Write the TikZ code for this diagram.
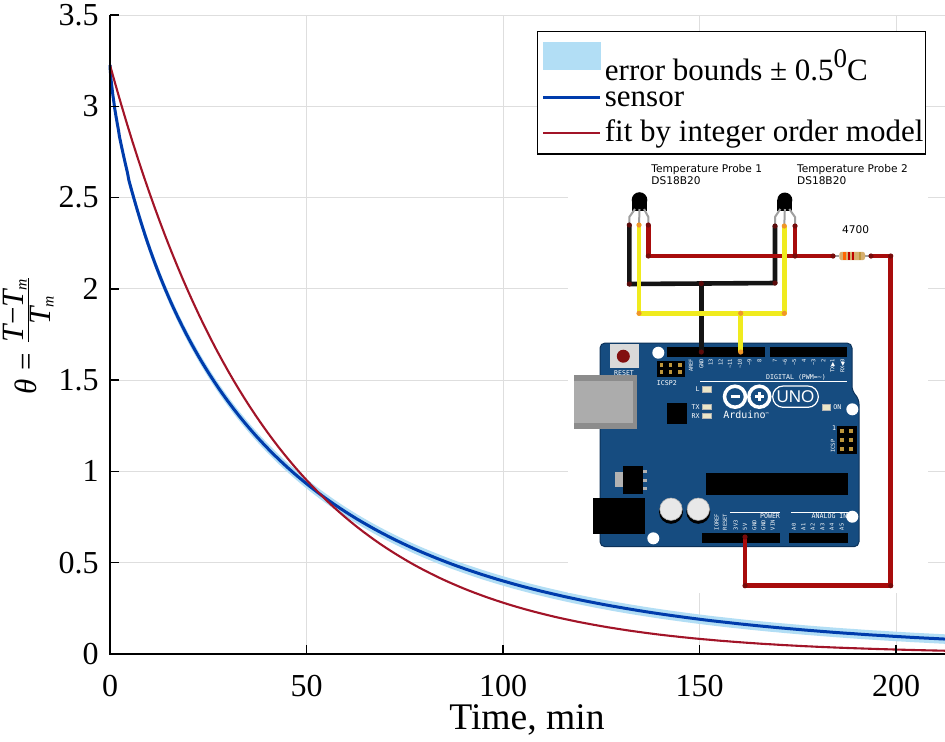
\documentclass[tikz,border=0pt]{standalone}
\usepackage{fix-cm}
\usepackage{amsmath}
\usepackage{fontspec}
\setmainfont{Liberation Serif}
\newfontfamily\circuitfont{DejaVu Sans}
\newfontfamily\boardfont{DejaVu Sans Mono}
\newfontfamily\unofont{Liberation Sans}
\definecolor{gridgray}{RGB}{222,222,222}
\definecolor{bandblue}{RGB}{178,222,245}
\definecolor{sensorblue}{RGB}{0,60,172}
\definecolor{fitred}{RGB}{162,20,40}
\definecolor{boardblue}{RGB}{22,76,128}
\definecolor{boardedge}{RGB}{12,50,90}
\definecolor{wirered}{RGB}{168,12,12}
\definecolor{wireblack}{RGB}{20,20,20}
\definecolor{wireyellow}{RGB}{240,235,30}
\definecolor{yellowdot}{RGB}{240,150,40}
\definecolor{darkdot}{RGB}{90,10,10}
\definecolor{reddot}{RGB}{120,10,10}
\definecolor{ledpale}{RGB}{235,230,200}
\definecolor{pingold}{RGB}{190,150,60}
\definecolor{usbdark}{RGB}{140,140,140}
\definecolor{usblight}{RGB}{172,172,172}
\definecolor{resetred}{RGB}{130,15,15}
\definecolor{capwhite}{RGB}{232,232,232}
\definecolor{resbody}{RGB}{215,175,110}
\newcommand\mytickfont{\fontsize{16}{19}\selectfont}
\newcommand\myaxfont{\fontsize{18.8}{22}\selectfont}
\newcommand\myylabfont{\fontsize{15.5}{18}\selectfont}
\newcommand\mylegfont{\fontsize{15.5}{18}\selectfont}
\newcommand\myprobefont{\circuitfont\fontsize{5.3}{6}\selectfont}
\newcommand\mypinfont{\boardfont\fontsize{2.7}{3}\selectfont}
\newcommand\myblabfont{\boardfont\fontsize{3.3}{4}\selectfont}
\begin{document}
\begin{tikzpicture}[x=0.5pt, y=-0.5pt,
  gridline/.style={draw=gridgray, line width=0.5pt},
  axisline/.style={draw=black, line width=0.75pt},
  sensorline/.style={draw=sensorblue, line width=1.5pt, line join=round},
  fitline/.style={draw=fitred, line width=1.05pt, line join=round},
  ticklab/.style={font=\mytickfont, inner sep=0pt},
  legtext/.style={font=\mylegfont, inner sep=0pt},
  probetext/.style={font=\myprobefont, inner sep=0pt, text=black},
  pinlab/.style={font=\mypinfont, inner sep=0pt, text=white, rotate=90},
  blab/.style={font=\myblabfont, inner sep=0pt, text=white},
  wire/.style={line width=2.3pt, line join=round},
  leg/.style={draw=gray!75, line width=1pt},
  hdr/.style={fill=black},
  led/.style={fill=ledpale, draw=gray!60, line width=0.3pt}]
\useasboundingbox (0,0) rectangle (945,741);
\fill[white] (0,0) rectangle (945,741);

% ---------------- data area ----------------
\begin{scope}[shift={(110,654)}, x=1.965pt, y=91.285pt]
  \foreach \t in {50,100,150,200} \draw[gridline] (\t,0) -- (\t,3.5);
  \foreach \v in {0.5,1,1.5,2,2.5,3,3.5} \draw[gridline] (0,\v) -- (212.5,\v);
  \fill[bandblue] (0,3.252)
     -- plot[domain=0.1:14.576, samples=160] ({\x*\x}, {3.226*exp(-pow(\x*\x/37.5,0.75))+0.026})
     -- plot[domain=14.576:0.1, samples=160] ({\x*\x}, {3.226*exp(-pow(\x*\x/37.5,0.75))-0.026})
     -- (0,3.2) -- cycle;
  \draw[sensorline] (0,3.226)
     -- plot[domain=0.1:14.576, samples=160] ({\x*\x}, {3.226*exp(-pow(\x*\x/37.5,0.75))});
  \draw[fitline] plot[domain=0:212.47, samples=150] (\x, {3.226*exp(-\x/41)});
  \draw[axisline] (0,3.5) -- (0,0) -- (212.47,0);
  \foreach \v in {0,0.5,1,1.5,2,2.5,3,3.5} \draw[axisline] (0,\v) -- (2.2,\v);
  \foreach \t in {0,50,100,150,200} \draw[axisline] (\t,0) -- (\t,0.049);
\end{scope}

% tick labels
\foreach \Y/\lab [count=\i] in {654/0, 562.7/0.5, 471.4/1, 380.1/1.5, 288.9/2, 197.6/2.5, 106.3/3, 15/3.5}
  \node[ticklab, anchor=east] (ytick\i) at (99,\Y) {\lab};
\foreach \X/\lab [count=\i] in {110/0, 306.5/50, 503/100, 699.5/150, 896/200}
  \node[ticklab, anchor=base] (xtick\i) at (\X,696) {\lab};
\node[font=\myaxfont, inner sep=0pt, anchor=base] (xlabel) at (527,729.5) {Time, min};
\node[font=\myylabfont, inner sep=0pt, anchor=base, rotate=90] (ylabel) at (36,335)
  {$\mbox{\itshape θ} \mathrel{\mbox{=}} \frac{\mbox{\itshape T}\mathbin{\mbox{−}}\mbox{\itshape T}_{\text{\itshape m}}}{\mbox{\itshape T}_{\text{\itshape m}}}$};

% ---------------- legend ----------------
\draw[fill=white, draw=black, line width=0.55pt] (537.3,31.7) rectangle (925.7,154);
\fill[bandblue] (543,42) rectangle (601,70);
\draw[sensorline] (543.3,97.3) -- (600,97.3);
\draw[fitline] (543.3,133.3) -- (600,133.3);
\node[legtext, anchor=base west] (leg1) at (604.5,80.8)
  {error bounds ± 0.5{\raisebox{0.42em}{\fontsize{13.5}{14}\selectfont 0}}C};
\node[legtext, anchor=base west] (leg2) at (604.5,106.5) {sensor};
\node[legtext, anchor=base west] (leg3) at (604.5,141.7) {fit by integer order model};

% ---------------- circuit inset ----------------
\fill[white] (568,155) rectangle (928,593);

% board
\fill[boardblue, draw=boardedge, line width=0.5pt, rounded corners=2.5pt]
  (600,343) -- (852,343) -- (852,391) -- (859,399) -- (859,546.7) -- (600,546.7) -- cycle;
\foreach \hx/\hy in {658.3/352.7, 852.3/409.3, 852.3/516.7, 653.3/538.3}
  \fill[white] (\hx,\hy) circle (6);
% USB
\fill[usbdark] (574,375) rectangle (637,429);
\fill[usblight] (574,381) rectangle (633,423);
% reset button
\fill[gray!30] (610,344) rectangle (639.3,368.3);
\fill[resetred] (623.3,356.2) circle (6.5);
\node[blab, anchor=center] (resetlab) at (624,372.8) {RESET};
% top headers
\fill[hdr] (666.7,346.7) rectangle (765,356.7);
\fill[hdr] (770,346.7) rectangle (846.7,356.7);
\foreach \px/\pl [count=\i] in {691/AREF, 701.3/GND, 710.7/13, 720.7/12, 730/\textasciitilde 11, 740/\textasciitilde 10, 749.3/\textasciitilde 9, 759.3/8,
   775/7, 785/\textasciitilde 6, 794.3/\textasciitilde 5, 804/4, 813.3/\textasciitilde 3, 823.3/2}
  \node[pinlab, anchor=east] (dpin\i) at (\px,358.5) {\pl};
\node[pinlab, anchor=east] (dpintx) at (832.7,358.5) {TX{\circuitfont ▶}1};
\node[pinlab, anchor=east] (dpinrx) at (842.7,358.5) {RX{\circuitfont ◀}0};
\node[blab, anchor=base] (digital) at (796,379) {DIGITAL (PWM=\textasciitilde)};
\draw[white, line width=0.5pt] (700,381.7) -- (846.7,381.7);
% ICSP2
\fill[hdr] (656.7,360.7) rectangle (685,376.7);
\foreach \qx in {661.5,670.8,680} \foreach \qy in {365,372}
  \fill[pingold] (\qx-1.6,\qy-1.6) rectangle (\qx+1.6,\qy+1.6);
\node[blab, anchor=base west] (icsp2) at (656.5,385.5) {ICSP2};
% small chip
\fill[black] (666.7,402.7) rectangle (686.7,424);
% LEDs
\draw[led] (702.7,386.7) rectangle (711.7,392);
\draw[led] (702.7,404) rectangle (711.7,409.3);
\draw[led] (702.7,413.3) rectangle (711.7,418.3);
\draw[led] (822.3,404.3) rectangle (830.7,410);
\node[blab, anchor=east] (ledL) at (700,389.4) {L};
\node[blab, anchor=east] (ledTX) at (700,406.7) {TX};
\node[blab, anchor=east] (ledRX) at (700,415.8) {RX};
\node[blab, anchor=west] (ledON) at (833,407.2) {ON};
% logo
\draw[white, line width=1.75pt] (735,396.7) circle (10.5);
\draw[white, line width=1.75pt] (759.3,396.7) circle (10.5);
\draw[white, line width=1.3pt] (730.5,396.7) -- (739.5,396.7);
\draw[white, line width=1.3pt] (754.8,396.7) -- (763.8,396.7);
\draw[white, line width=1.3pt] (759.3,392.2) -- (759.3,401.2);
\draw[white, line width=0.6pt, rounded corners=5.2pt] (772.7,386) rectangle (818.3,407.3);
\node[font=\unofont\fontsize{8.5}{9}\selectfont, text=white, inner sep=0pt] (uno) at (795.5,396.9) {UNO};
\node[font=\boardfont\fontsize{5}{6}\selectfont, text=white, inner sep=0pt, anchor=base west] (arduino) at (723,418)
  {Arduino{\fontsize{2.6}{3}\selectfont\raisebox{0.6ex}{™}}};
% right ICSP
\fill[hdr] (836.7,426) rectangle (856.7,454);
\foreach \qx in {842,851} \foreach \qy in {431,440,449}
  \fill[pingold] (\qx-1.6,\qy-1.6) rectangle (\qx+1.6,\qy+1.6);
\node[pinlab] (icsp) at (833,446) {ICSP};
\node[blab] (icsp1) at (834,428.5) {1};
% regulator
\fill[gray!60] (615,471.7) rectangle (623.3,487.3);
\fill[black] (623.3,466) rectangle (643.3,494);
\foreach \ry in {471.5,480,488.5} \fill[gray!60] (643.3,\ry-1.5) rectangle (647,\ry+1.5);
% main chip
\fill[black] (706,473.3) rectangle (848.3,495);
% power jack
\fill[black] (593.3,498.3) rectangle (645,534);
% capacitors
\foreach \cx in {671,698.3} {
  \fill[black] (\cx,511.8) circle (12);
  \fill[capwhite, draw=gray!60, line width=0.3pt] (\cx,509.2) circle (11.2);
}
% bottom headers
\fill[hdr] (701.7,532.7) rectangle (780,542.7);
\fill[hdr] (789.3,532.7) rectangle (848.3,542.7);
\node[blab, anchor=base] (powerlab) at (770,518.5) {POWER};
\draw[white, line width=0.5pt] (730,512.7) -- (780,512.7);
\node[blab, anchor=base] (analoglab) at (829.5,518.5) {ANALOG IN};
\draw[white, line width=0.5pt] (791,512.7) -- (848.3,512.7);
\foreach \px/\pl [count=\i] in {716.7/IOREF, 725/RESET, 735.7/3V3, 745/5V, 754.3/GND, 763.3/GND, 772.7/VIN,
   794/A0, 803.3/A1, 812.7/A2, 822.3/A3, 831.7/A4, 841.7/A5}
  \node[pinlab, anchor=west] (ppin\i) at (\px,530.5) {\pl};

% probes
\fill[black] (639.5,200) circle (7.8);
\fill[black] (631.7,200) rectangle (647.3,210.5);
\fill[black] (784.8,200) circle (7.5);
\fill[black] (777.3,200) rectangle (792.3,210.5);

\coordinate (p1k) at (629.3,225);
\coordinate (p1y) at (639,225);
\coordinate (p1r) at (648.3,225);
\coordinate (p2k) at (775,226);
\coordinate (p2y) at (784.3,226);
\coordinate (p2r) at (795,226);
\coordinate (kA) at (629.3,284);
\coordinate (kB) at (775,283);
\coordinate (kJ) at (701.3,283.5);
\coordinate (kG) at (701.3,352);
\coordinate (yA) at (639,313.3);
\coordinate (yB) at (784.3,313.3);
\coordinate (yJ) at (740.7,313.3);
\coordinate (yP) at (740.7,352);
\coordinate (rA) at (648.3,256);
\coordinate (rB) at (795,256);
\coordinate (rR1) at (833,256);
\coordinate (rR2) at (871,256);
\coordinate (rC) at (890.7,256);
\coordinate (rD) at (890.7,585.7);
\coordinate (rE) at (745,585.7);
\coordinate (rV) at (745,537);

\draw[leg] (635,209) -- (629.3,217) -- (p1k);
\draw[leg] (639.5,209) -- (p1y);
\draw[leg] (644,209) -- (648.3,217) -- (p1r);
\draw[leg] (780.3,209) -- (775,217) -- (p2k);
\draw[leg] (784.8,209) -- (p2y);
\draw[leg] (789.3,209) -- (795,217) -- (p2r);

\draw[wire, wireblack] (p1k) -- (kA) -- (kB) -- (p2k);
\draw[wire, wireblack] (kJ) -- (kG);
\draw[wire, wirered] (p1r) -- (rA) -- (rR1);
\draw[wire, wirered] (p2r) -- (rB);
\draw[wire, wirered] (rR2) -- (rC) -- (rD) -- (rE) -- (rV);
\draw[wire, wireyellow] (p1y) -- (yA) -- (yB) -- (p2y);
\draw[wire, wireyellow] (yJ) -- (yP);

% resistor
\draw[leg] (rR1) -- (839.3,256);
\draw[leg] (865,256) -- (rR2);
\fill[resbody, rounded corners=1.2pt] (839.3,251.8) rectangle (865,260.2);
\fill[orange!80!red] (843,251.8) rectangle (845.5,260.2);
\fill[red!75!black] (847.5,251.8) rectangle (850,260.2);
\fill[red!75!black] (851.5,251.8) rectangle (854,260.2);
\fill[pingold] (858.5,251.8) rectangle (860.5,260.2);

\foreach \c in {p1k,kA,kB,p2k,kJ,kG} \fill[darkdot] (\c) circle (2.6);
\foreach \c in {p1r,rA,p2r,rB,rR1,rR2,rC,rD,rE,rV} \fill[reddot] (\c) circle (2.6);
\foreach \c in {p1y,yA,yB,p2y,yJ,yP} \fill[yellowdot] (\c) circle (2.6);

\node[probetext, anchor=base west] (pr1a) at (651,172.3) {Temperature Probe 1};
\node[probetext, anchor=base west] (pr1b) at (651,184) {DS18B20};
\node[probetext, anchor=base west] (pr2a) at (796.7,172.3) {Temperature Probe 2};
\node[probetext, anchor=base west] (pr2b) at (796.7,184) {DS18B20};
\node[probetext, anchor=base west] (res) at (841.7,233) {4700};
\end{tikzpicture}
\end{document}
